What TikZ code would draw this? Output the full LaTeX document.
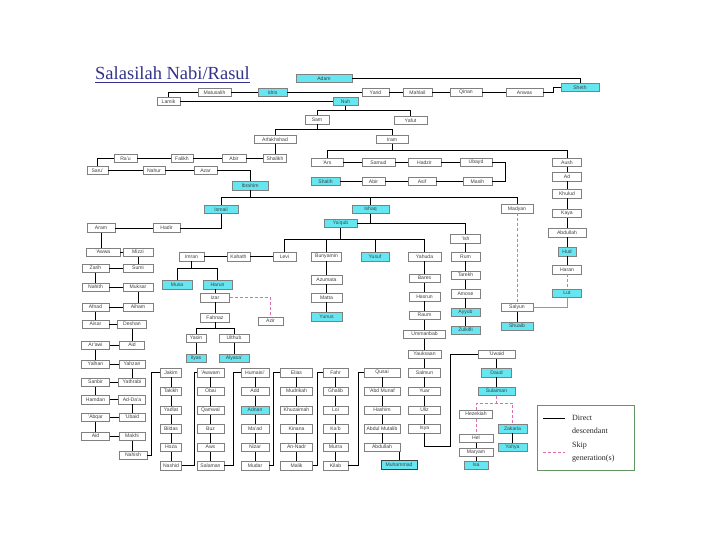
\documentclass[tikz,border=0pt]{standalone}
\usepackage{fontspec}
\setmainfont{Liberation Serif}
\setsansfont{Liberation Sans}
\definecolor{ncyan}{RGB}{102,230,240}
\definecolor{bgray}{RGB}{128,128,128}
\definecolor{npink}{RGB}{222,110,175}
\definecolor{ttl}{RGB}{51,51,140}
\definecolor{lgreen}{RGB}{100,150,100}
\tikzset{
 bx/.style={draw=bgray, fill=white, line width=0.5pt, minimum height=8.5pt, inner sep=0pt,
   font=\sffamily\fontsize{5.1}{5.5}\selectfont, text=black!75, minimum width=#1pt},
 bx/.default=28,
 cx/.style={bx=#1, fill=ncyan},
 cx/.default=28,
 ln/.style={line width=0.8pt, black},
 pk/.style={line width=0.8pt, npink, dash pattern=on 3pt off 2pt},
 pks/.style={line width=0.8pt, npink},
 lgt/.style={anchor=west, inner sep=0pt, font=\fontsize{8}{9}\selectfont, text=black!85},
}
\begin{document}
\begin{tikzpicture}[x=1pt,y=-1pt]
\fill[white] (0,0) rectangle (720,540);
\useasboundingbox (0,0) rectangle (720,540);
% title
\node[anchor=base west, inner sep=0pt, text=ttl, font=\fontsize{18.5}{20}\selectfont] (title) at (95,80) {Salasilah Nabi/Rasul};
\draw[ttl, line width=0.6pt] (95,82.5) -- (title.base east |- 95,82.5);
% ---------- top rows
\node[cx=56] (adam) at (324,78.5) {Adam};
\node[cx=38] (sheth) at (580,87.5) {Sheth};
\node[bx=37] (anwas) at (524.5,92.5) {Anwas};
\node[bx=32] (qinan) at (466,92.5) {Qinan};
\node[bx=29] (mahlail) at (417.5,92.5) {Mahlail};
\node[bx=27] (yarid) at (375.5,92.5) {Yarid};
\node[cx=29] (idris) at (272.5,92.5) {Idris};
\node[bx=33] (matusalih) at (214.5,92.5) {Matusalih};
\node[bx=23] (lamik) at (168.5,101.5) {Lamik};
\node[cx=25] (nuh) at (345.5,101.5) {Nuh};
\node[bx=24] (sam) at (317,120) {Sam};
\node[bx=33] (yafis) at (410.5,120.5) {Yafut};
\node[bx=42] (arfak) at (275,139.5) {Arfakhshad};
\node[bx=32] (iram) at (392,139.5) {Iram};
\node[bx=23] (shalikh) at (275,158.5) {Shalikh};
\node[bx=24] (abir1) at (234,158.5) {Abir};
\node[bx=22] (falikh) at (182,158.5) {Falikh};
\node[bx=23] (rau) at (125.5,158.5) {Ra'u};
\node[bx=21] (saru) at (97.5,170.5) {Saru'};
\node[bx=22] (nahur) at (154,170.5) {Nahur};
\node[bx=23] (azar) at (205.5,170.5) {Azar};
\node[cx=36] (ibrahim) at (250,186) {Ibrahim};
\node[bx=32] (ars) at (327,162.5) {'Ars};
\node[bx=33] (samud) at (378.5,162.5) {Samud};
\node[bx=33] (hadzir) at (424.5,162.5) {Hadzir};
\node[bx=32] (ubayd) at (476,162.5) {Ubayd};
\node[bx=29] (masih) at (477.5,181.5) {Masih};
\node[bx=28] (asif) at (422,181.5) {Asif};
\node[bx=23] (abir2) at (373.5,181.5) {Abir};
\node[cx=29] (shalih) at (325.5,181.5) {Shalih};
% Hud column
\node[bx=29] (aush) at (567,162.5) {Aush};
\node[bx=29] (ad) at (567,177) {Ad};
\node[bx=29] (khulud) at (567,194) {Khulud};
\node[bx=29] (kaya) at (567,213.5) {Kaya};
\node[bx=38] (abdullah1) at (567,232.5) {Abdullah};
\node[cx=18] (hud) at (567,251.5) {Hud};
\node[bx=29] (haran) at (567,269.5) {Haran};
\node[cx=29] (lut) at (567,293) {Lut};
% Ibrahim children
\node[cx=34] (ismail) at (221,209.5) {Ismail};
\node[cx=37] (ishaq) at (370.5,209.5) {Ishaq};
\node[bx=32] (madyan) at (517,209) {Madyan};
\node[bx=27] (hadir) at (166.5,228) {Hadir};
\node[bx=28] (aram) at (101,228) {Aram};
\node[cx=33] (yaqub) at (340.5,223.5) {Ya'qub};
\node[bx=30] (ish) at (465.5,238.5) {'Ish};
\node[bx=29] (rum) at (465.5,256.5) {Rum};
\node[bx=29] (tarekh) at (465.5,275) {Tarekh};
\node[bx=29] (amose) at (465.5,293.5) {Amose};
\node[cx=29] (ayyub) at (465.5,312) {Ayyub};
\node[cx=29] (zulkifli) at (465.5,330) {Zulkifli};
\node[bx=32] (salyun) at (517,307) {Salyun};
\node[cx=32] (shuaib) at (517,326) {Shuaib};
% Ya'qub children
\node[bx=23] (levi) at (284.5,256.5) {Levi};
\node[bx=30] (bunyamin) at (326.5,256.5) {Bunyamin};
\node[cx=28] (yusuf) at (375,256.5) {Yusuf};
\node[bx=33] (yahuda) at (424.5,256.5) {Yahuda};
\node[bx=23] (kahath) at (238.5,256.5) {Kahath};
\node[bx=25] (imran) at (191.5,256.5) {Imran};
\node[cx=30] (musa) at (177,284.5) {Musa};
\node[cx=29] (harun) at (217.5,284.5) {Harun};
\node[bx=29] (izar) at (215,297.5) {Izar};
\node[bx=29] (fahnaz) at (215,317.5) {Fahnaz};
\node[bx=25] (azir) at (270.5,321) {Azir};
\node[bx=20] (yasin) at (196,338) {Yasin};
\node[bx=30] (ulthub) at (234,338) {Ulthub};
\node[cx=20] (ilyas) at (196,358) {Ilyas};
\node[cx=30] (alyasa) at (234,358) {Alyasa'};
\node[bx=31] (azumata) at (326.5,279.5) {Azumata};
\node[bx=31] (matta) at (326.5,297.5) {Matta};
\node[cx=31] (yunus) at (326.5,316.5) {Yunus};
\node[bx=31] (bares) at (424.5,278) {Bares};
\node[bx=31] (hasrun) at (424.5,296.5) {Hasrun};
\node[bx=31] (raum) at (424.5,315) {Raum};
\node[bx=42] (ummanbab) at (424.5,334) {Ummanbab};
\node[bx=33] (yauksaan) at (424.5,354) {Yauksaan};
% left column
\node[bx=34] (awwa) at (103,252) {'Awwa};
\node[bx=30] (mizzi) at (138,252) {Mizzi};
\node[bx=30] (sumi) at (138,268) {Sumi};
\node[bx=27] (zarih) at (95.5,268) {Zarih};
\node[bx=27] (nahith) at (95.5,287) {Nahith};
\node[bx=30] (muksar) at (138,287) {Muksar};
\node[bx=30] (aiham) at (138,307) {Aiham};
\node[bx=27] (afnad) at (95.5,307) {Afnad};
\node[bx=27] (aisar) at (95.5,324) {Aisar};
\node[bx=29] (deshan) at (132,324) {Deshan};
\node[bx=25] (aid1) at (132,345) {Aid};
\node[bx=28] (arawi) at (95.5,345) {Ar'awi};
\node[bx=28] (yalhan) at (95.5,364) {Yalhan};
\node[bx=26] (yahzan) at (132,364) {Yahzan};
\node[bx=27] (yathrabi) at (132,382) {Yathrabi};
\node[bx=28] (sanbir) at (95.5,382) {Sanbir};
\node[bx=28] (hamdan) at (95.5,399.5) {Hamdan};
\node[bx=27] (adda) at (132,399.5) {Ad-Da'a};
\node[bx=26] (ubaid) at (132,417) {'Ubaid};
\node[bx=28] (abqar) at (95.5,417) {'Abqar};
\node[bx=28] (aid2) at (95.5,436) {Aid};
\node[bx=26] (makhi) at (132,436) {Makhi};
\node[bx=28] (nahish) at (133,455) {Nahish};
% lower columns
\node[bx=21] (jakim) at (171,372.5) {Jakim};
\node[bx=21] (takikh) at (171,391) {Takikh};
\node[bx=21] (yadlat) at (171,410) {Yadlat};
\node[bx=21] (bildas) at (171,428.5) {Bildas};
\node[bx=21] (hoza) at (171,447) {Hoza};
\node[bx=21] (nashid) at (171,465.5) {Nashid};
\node[bx=27] (awwam) at (210.5,372.5) {'Awwam};
\node[bx=27] (obai) at (210.5,391) {Obai};
\node[bx=27] (qamwal) at (210.5,410) {Qamwal};
\node[bx=27] (buz) at (210.5,428.5) {Buz};
\node[bx=27] (aws) at (210.5,447) {Aws};
\node[bx=27] (salaman) at (210.5,465.5) {Salaman};
\node[bx=28] (humaisi) at (255,372.5) {Humaisi'};
\node[bx=28] (add) at (255,391) {Add};
\node[cx=28] (adnan) at (255,410) {Adnan};
\node[bx=28] (maad) at (255,428.5) {Ma'ad};
\node[bx=28] (nizar) at (255,447) {Nizar};
\node[bx=28] (mudar) at (255,465.5) {Mudar};
\node[bx=32] (elias) at (296.5,372.5) {Elias};
\node[bx=32] (mudrikah) at (296.5,391) {Mudrikah};
\node[bx=32] (khuzaimah) at (296.5,410) {Khuzaimah};
\node[bx=32] (kinana) at (296.5,428.5) {Kinana};
\node[bx=32] (annadr) at (296.5,447) {An-Nadr};
\node[bx=32] (malik) at (296.5,465.5) {Malik};
\node[bx=25] (fahr) at (335.5,372.5) {Fahr};
\node[bx=25] (ghalib) at (335.5,391) {Ghalib};
\node[bx=25] (loi) at (335.5,410) {Loi};
\node[bx=25] (kab) at (335.5,428.5) {Ka'b};
\node[bx=25] (murra) at (335.5,447) {Murra};
\node[bx=25] (kilab) at (335.5,465.5) {Kilab};
\node[bx=36] (qusai) at (382,372.5) {Qusai};
\node[bx=36] (abdmunaf) at (382,391) {'Abd Munaf};
\node[bx=36] (hashim) at (382,410) {Hashim};
\node[bx=36] (abdmutalib) at (382,428.5) {Abdul Mutalib};
\node[bx=36] (abdullah2) at (382,447) {Abdullah};
\node[cx=36, draw=black!75] (muhammad) at (399,464.5) {Muhammad};
\node[bx=32] (salmun) at (424.5,372.5) {Salmun};
\node[bx=32] (yuar) at (424.5,391) {Yuar};
\node[bx=32] (uliz) at (424.5,410) {Uliz};
\node[bx=32] (isya) at (424.5,428.5) {Isya};
\node[bx=37] (uwaid) at (496.5,354) {'Uwaid};
\node[cx=30] (daud) at (496.5,372.5) {Daud};
\node[cx=37] (sulaiman) at (496.5,391) {Sulaiman};
\node[bx=33] (hezekiah) at (476,414) {Hezekiah};
\node[cx=29] (zakaria) at (512.5,428.5) {Zakaria};
\node[cx=29] (yahya) at (512.5,447) {Yahya};
\node[bx=34] (hel) at (476,438) {Hel};
\node[bx=34] (maryam) at (476,452) {Maryam};
\node[cx=24] (isa) at (476,465) {Isa};
% ---------- connectors
\draw[ln] (adam.east) -| (sheth.north);
\draw[ln] (anwas.east) -- (553,92.5) |- (sheth.west);
\draw[ln] (matusalih) -- (idris) -- (yarid) -- (mahlail) -- (qinan) -- (anwas);
\draw[ln] (matusalih.west) -| (lamik.north);
\draw[ln] (lamik) -- (nuh);
\draw[ln] (nuh.south) -- (345.5,110);
\draw[ln] (sam.north) |- (410.5,110) -- (yafis.north);
\draw[ln] (sam.south) -- (317,129);
\draw[ln] (arfak.north) |- (392,129) -- (iram.north);
\draw[ln] (arfak) -- (shalikh);
\draw[ln] (iram.south) -- (392,150);
\draw[ln] (ars.north) |- (567,150) -- (aush.north);
\draw[ln] (ars) -- (samud) -- (hadzir) -- (ubayd);
\draw[ln] (ubayd.east) -- (505,162.5) |- (masih.east);
\draw[ln] (masih) -- (asif) -- (abir2) -- (shalih);
\draw[ln] (aush) -- (ad) -- (khulud) -- (kaya) -- (abdullah1) -- (hud) -- (haran);
\draw[pk] (haran) -- (lut);
\draw[pks] (lut.south) |- (salyun.east);
\draw[ln] (shalikh) -- (abir1) -- (falikh) -- (rau);
\draw[ln] (rau.west) -| (saru.north);
\draw[ln] (saru) -- (nahur) -- (azar);
\draw[ln] (azar.east) -| (ibrahim.north);
\draw[ln] (ibrahim.south) -- (250,197);
\draw[ln] (ismail.north) |- (517,197) -- (madyan.north);
\draw[ln] (ishaq.north) -- (370.5,197);
\draw[pk] (madyan) -- (salyun);
\draw[ln] (salyun) -- (shuaib);
\draw[ln] (ishaq.south) |- (yaqub.east);
\draw[ln] (370.5,223.5) -| (ish.north);
\draw[ln] (ish) -- (rum) -- (tarekh) -- (amose) -- (ayyub) -- (zulkifli);
\draw[ln] (yaqub.south) -- (340.5,239);
\draw[ln] (levi.north) |- (424.5,239) -- (yahuda.north);
\draw[ln] (bunyamin.north) -- (326.5,239);
\draw[ln] (yusuf.north) -- (375,239);
\draw[ln] (levi) -- (kahath) -- (imran);
\draw[ln] (imran.south) -- (191.5,268);
\draw[ln] (musa.north) |- (217.5,268) -- (harun.north);
\draw[ln] (harun.south -| izar.north) -- (izar.north);
\draw[ln] (izar) -- (fahnaz);
\draw[pk] (izar.east) -| (azir.north);
\draw[ln] (fahnaz.south) -- (215,328);
\draw[ln] (yasin.north) |- (234,328) -- (ulthub.north);
\draw[ln] (yasin) -- (ilyas);
\draw[ln] (ulthub) -- (alyasa);
\draw[ln] (bunyamin) -- (azumata) -- (matta) -- (yunus);
\draw[ln] (yahuda) -- (bares) -- (hasrun) -- (raum) -- (ummanbab) -- (yauksaan) -- (salmun) -- (yuar) -- (uliz) -- (isya);
\draw[ln] (isya.south) |- (450,446) |- (uwaid.west);
\draw[ln] (uwaid) -- (daud) -- (sulaiman);
\draw[pk] (sulaiman.south) -- (496.5,403);
\draw[pk] (hezekiah.north) |- (512.5,403) -- (zakaria.north);
\draw[pk] (hezekiah) -- (hel);
\draw[ln] (hel) -- (maryam) -- (isa);
\draw[ln] (zakaria) -- (yahya);
% left column
\draw[ln] (ismail.south) |- (hadir.east);
\draw[ln] (hadir) -- (aram);
\draw[ln] (aram.south) -- (aram.south |- awwa.north);
\draw[ln] (awwa) -- (mizzi) -- (sumi) -- (zarih) -- (nahith) -- (muksar) -- (aiham) -- (afnad) -- (aisar) -- (deshan) -- (aid1) -- (arawi) -- (yalhan) -- (yahzan) -- (yathrabi) -- (sanbir) -- (hamdan) -- (adda) -- (ubaid) -- (abqar) -- (aid2) -- (makhi);
\draw[ln] (makhi.south) -- (makhi.south |- nahish.north);
\draw[ln] (nahish.east) -- (151,455) |- (jakim.west);
\draw[ln] (jakim) -- (takikh) -- (yadlat) -- (bildas) -- (hoza) -- (nashid);
\draw[ln] (nashid.east) -- (194,465.5) |- (awwam.west);
\draw[ln] (awwam) -- (obai) -- (qamwal) -- (buz) -- (aws) -- (salaman);
\draw[ln] (salaman.east) -- (233,465.5) |- (humaisi.west);
\draw[ln] (humaisi) -- (add) -- (adnan) -- (maad) -- (nizar) -- (mudar);
\draw[ln] (mudar.east) -- (273,465.5) |- (elias.west);
\draw[ln] (elias) -- (mudrikah) -- (khuzaimah) -- (kinana) -- (annadr) -- (malik);
\draw[ln] (malik.east) -- (317,465.5) |- (fahr.west);
\draw[ln] (fahr) -- (ghalib) -- (loi) -- (kab) -- (murra) -- (kilab);
\draw[ln] (kilab.east) -- (358,465.5) |- (qusai.west);
\draw[ln] (qusai) -- (abdmunaf) -- (hashim) -- (abdmutalib) -- (abdullah2);
\draw[ln] (muhammad.north) -- (muhammad.north |- abdullah2.south);
% ---------- legend
\node[draw=lgreen, line width=0.9pt, minimum width=97pt, minimum height=65pt, inner sep=0pt] (legend) at (585.5,437.5) {};
\coordinate (l1a) at (543,418);
\coordinate (l1b) at (565,418);
\coordinate (l2a) at (543,452);
\coordinate (l2b) at (565,452);
\draw[ln] (l1a) -- (l1b);
\draw[pk] (l2a) -- (l2b);
\node[lgt] (t1) at (572,418) {Direct};
\node[lgt] (t2) at (572,430.5) {descendant};
\node[lgt] (t3) at (572,446) {Skip};
\node[lgt] (t4) at (572,458.5) {generation(s)};
\end{tikzpicture}
\end{document}
